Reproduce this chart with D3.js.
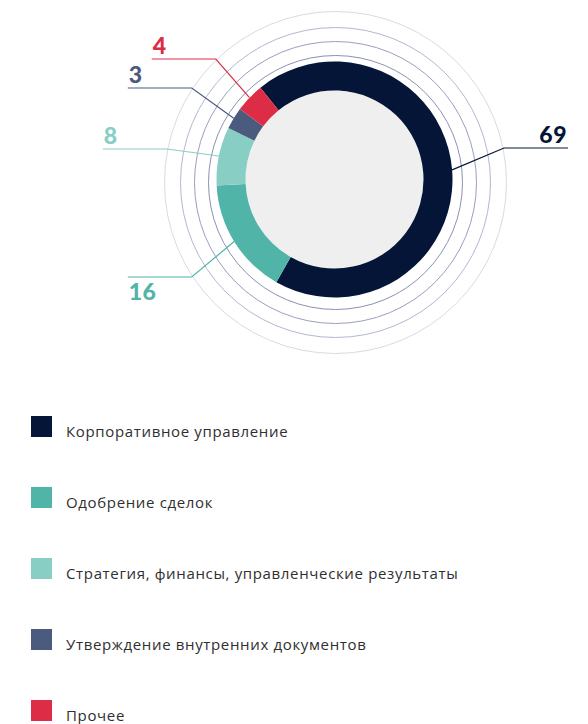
<!DOCTYPE html>
<html>
<head>
<meta charset="utf-8">
<script src="https://cdn.jsdelivr.net/npm/d3@7"></script>
<style>
    body { margin: 0; background: #fff; }
    svg { display: block; }
</style>
</head>
<body>
<div id="chart"></div>
<script>
const categories = [
    "Корпоративное управление",
    "Одобрение сделок",
    "Стратегия, финансы, управленческие результаты",
    "Утверждение внутренних документов",
    "Прочее"
]
const values = [69, 16, 8, 3, 4]
const colors = ["#041537", "#50b4a8", "#89cec5", "#4b5b7e", "#dc2c46"]

// layout only: vertical offset of each leader line from the centre, and side
const labelOffsets = [-31.5, 97.5, -30.5, -91.5, -120.5]
const labelBelow = [false, true, false, false, false]

const width = 588
const height = 724
const cx = 334.5, cy = 179.5
const outerR = 118, innerR = 89
const ringCx = cx + 1, ringCy = cy + 3
const rings = [
    { r: 127, color: "#8b92b2" },
    { r: 141, color: "#9aa0bd" },
    { r: 155, color: "#b3b8cf" },
    { r: 171, color: "#d8dbe7" }
]
const elbowR = 172
const tailLen = 64

const svg = d3.select("#chart")
    .append("svg")
    .attr("width", width)
    .attr("height", height)

svg.selectAll(".ring").data(rings)
    .enter().append("circle")
    .attr("class", "ring")
    .attr("cx", ringCx)
    .attr("cy", ringCy)
    .attr("r", d => d.r)
    .attr("fill", "none")
    .attr("stroke", d => d.color)
    .attr("stroke-width", 1)

const startA = -38.9 * Math.PI / 180
const pie = d3.pie().sort(null).value(d => d)
    .startAngle(startA).endAngle(startA + 2 * Math.PI)
const arcs = pie(values)

const arc = d3.arc().innerRadius(innerR).outerRadius(outerR)

const g = svg.append("g").attr("transform", `translate(${cx},${cy})`)

g.append("circle").attr("r", innerR).attr("fill", "#efefef")

g.selectAll(".slice").data(arcs)
    .enter().append("path")
    .attr("class", "slice")
    .attr("d", arc)
    .attr("fill", (d, i) => colors[i])

// leader lines and value labels
arcs.forEach((d, i) => {
    const mid = (d.startAngle + d.endAngle) / 2
    const x0 = cx + outerR * Math.sin(mid)
    const y0 = cy - outerR * Math.cos(mid)
    const right = Math.sin(mid) > 0
    const ly = cy + labelOffsets[i]
    const dy = ly - ringCy
    const ex = ringCx + (right ? 1 : -1) * Math.sqrt(elbowR * elbowR - dy * dy)
    const tx = ex + (right ? tailLen : -tailLen)

    svg.append("polyline")
        .attr("points", `${x0},${y0} ${ex},${ly} ${tx},${ly}`)
        .attr("fill", "none")
        .attr("stroke", colors[i])
        .attr("stroke-width", 1.2)

    svg.append("text")
        .attr("x", right ? tx - 1 : tx + 1)
        .attr("y", labelBelow[i] ? ly + 23 : ly - 5)
        .attr("text-anchor", right ? "end" : "start")
        .attr("font-family", "Lato, 'Open Sans', sans-serif")
        .attr("font-weight", 900)
        .attr("font-size", "23px")
        .attr("letter-spacing", "0.5px")
        .attr("fill", colors[i])
        .text(values[i])
})

// legend
const legend = svg.selectAll(".legend").data(categories)
    .enter().append("g")
    .attr("class", "legend")
    .attr("transform", (d, i) => `translate(31,${416 + i * 71})`)

legend.append("rect")
    .attr("width", 21)
    .attr("height", 21)
    .attr("fill", (d, i) => colors[i])

legend.append("text")
    .attr("x", 35)
    .attr("y", 21)
    .attr("font-family", "'Open Sans', sans-serif")
    .attr("font-size", "15px")
    .attr("letter-spacing", "0.65px")
    .attr("fill", "#2f2f2f")
    .text(d => d)
</script>
</body>
</html>
